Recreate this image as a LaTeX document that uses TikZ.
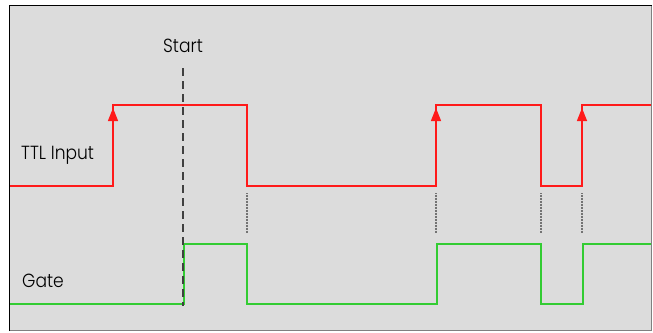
\documentclass[tikz,border=0pt]{standalone}
\usepackage{fontspec}
\setmainfont{Poppins}[UprightFont=* Light, FakeStretch=0.9]
\usetikzlibrary{arrows.meta}
\definecolor{bg}{HTML}{DCDCDC}
\definecolor{ttlred}{HTML}{FF1A1A}
\definecolor{gategreen}{HTML}{33CC33}
\tikzset{
  ttl/.style={draw=ttlred, line width=1.4pt},
  gatesig/.style={draw=gategreen, line width=2pt},
  rise/.style={-{Triangle[length=13pt,width=10pt]}, draw=ttlred, fill=ttlred, line width=1.4pt},
  startline/.style={draw=black!75, line width=1.4pt, dash pattern=on 8pt off 5pt},
  marker/.style={draw=black!55, line width=1.1pt, dash pattern=on 1pt off 0.5pt},
  lbl/.style={font=\fontsize{19}{22}\selectfont, inner sep=0pt, text=black}
}
\begin{document}
\begin{tikzpicture}[x=1pt,y=-1pt]
\useasboundingbox (0,0) rectangle (653,332);
\fill[white] (0,0) rectangle (653,332);
\fill[bg] (9,5) rectangle (652,331);
\draw[black!50, line width=1.2pt] (651.4,5) -- (651.4,330.4) -- (9,330.4);
\draw[black, line width=1.2pt] (9.6,331) -- (9.6,5.6) -- (652,5.6);

% coordinates
\coordinate (r0) at (10,186);
\coordinate (r1) at (113,186); \coordinate (r1h) at (113,105);
\coordinate (r2h) at (247,105); \coordinate (r2) at (247,186);
\coordinate (r3) at (436,186); \coordinate (r3h) at (436,105);
\coordinate (r4h) at (541,105); \coordinate (r4) at (541,186);
\coordinate (r5) at (582,186); \coordinate (r5h) at (582,105);
\coordinate (r6) at (651,105);

\coordinate (g0) at (10,304);
\coordinate (g1) at (184,304); \coordinate (g1h) at (184,244);
\coordinate (g2h) at (247,244); \coordinate (g2) at (247,304);
\coordinate (g3) at (437,304); \coordinate (g3h) at (437,244);
\coordinate (g4h) at (541,244); \coordinate (g4) at (541,304);
\coordinate (g5) at (583,304); \coordinate (g5h) at (583,244);
\coordinate (g6) at (651,244);

% gate signal
\draw[gatesig] (g0) -- (g1) -- (g1h) -- (g2h) -- (g2) -- (g3) -- (g3h) -- (g4h) -- (g4) -- (g5) -- (g5h) -- (g6);

% ttl signal
\draw[ttl] (r0) -- (r1) -- (r1h) -- (r2h) -- (r2) -- (r3) -- (r3h) -- (r4h) -- (r4) -- (r5) -- (r5h) -- (r6);
\foreach \a in {r1,r3,r5}{
  \draw[rise] (\a) -- ++(0,-78);
}

% start line
\node[lbl] (start) at (183,46) {Start};
\coordinate (s0) at (183,68);
\coordinate (s1) at (183,306);
\draw[startline] (s0) -- (s1);

% markers
\foreach \x/\n in {247/a,436/b,541/c,582/d}{
  \coordinate (m\n0) at (\x,193);
  \coordinate (m\n1) at (\x,233);
  \draw[marker] (m\n0) -- (m\n1);
}

\node[lbl, anchor=west] (ttllbl) at (21,155) {TTL Input};
\node[lbl, anchor=west] (gatelbl) at (22,281) {Gate};
\end{tikzpicture}
\end{document}
